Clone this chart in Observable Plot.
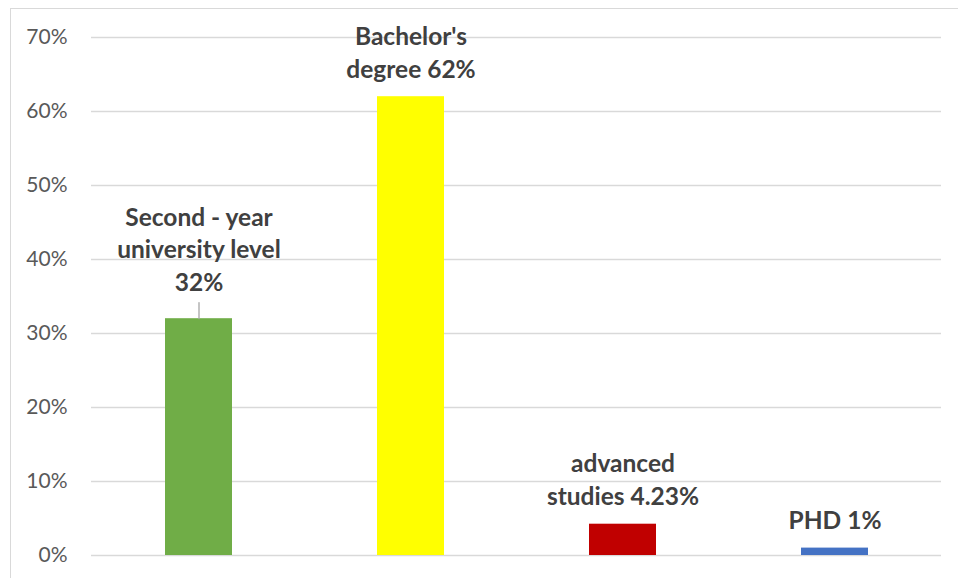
<!DOCTYPE html>
<html>
<head>
<meta charset="utf-8">
<script src="https://cdn.jsdelivr.net/npm/d3@7"></script>
<script src="https://cdn.jsdelivr.net/npm/@observablehq/plot@0.6"></script>
<style>
  html, body { margin: 0; padding: 0; background: #fff; }
  #wrap { position: relative; width: 958px; height: 578px; overflow: hidden; }
  #border { position: absolute; left: 10px; top: 8px; width: 1000px; height: 1000px; border: 1px solid #d9d9d9; box-sizing: border-box; pointer-events: none; }
</style>
</head>
<body>
<div id="wrap"><div id="border"></div></div>
<script>
const categories = ["Second - year university level", "Bachelor's degree", "advanced studies", "PHD"];
const values = [0.32, 0.62, 0.0423, 0.01];
const labels = ["Second - year\nuniversity level\n32%", "Bachelor's\ndegree 62%", "advanced\nstudies 4.23%", "PHD 1%"];
const colors = ["#70AD47", "#FFFF00", "#C00000", "#4472C4"];
const yTicks = [0, 0.1, 0.2, 0.3, 0.4, 0.5, 0.6, 0.7];

const data = categories.map((c, i) => ({cat: c, value: values[i], label: labels[i], color: colors[i]}));
const lifted = data.filter((d, i) => i === 0);
const normal = data.filter((d, i) => i !== 0);

const leader = {
  draw(context, l) { context.moveTo(0, 0); context.lineTo(0, -l); }
};

const chart = Plot.plot({
  width: 958,
  height: 578,
  marginLeft: 91,
  marginRight: 17,
  marginTop: 37,
  marginBottom: 23,
  style: {fontFamily: "Lato, 'Open Sans', sans-serif", background: "transparent", overflow: "visible"},
  x: {domain: categories, paddingInner: 0.685, paddingOuter: 0.3425, axis: null},
  y: {domain: [0, 0.7], label: null},
  marks: [
    Plot.gridY(yTicks, {stroke: "#d9d9d9", strokeWidth: 1.5, strokeOpacity: 1}),
    Plot.axisY(yTicks, {tickFormat: d => Math.round(d * 100) + "%", tickSize: 0, tickPadding: 24, fontSize: 21, fill: "#595959", label: null}),
    Plot.barY(data, {x: "cat", y: "value", fill: "color"}),
    Plot.vector(lifted, {x: "cat", y: "value", length: 16, rotate: 0, anchor: "start", shape: leader, stroke: "#a6a6a6", strokeWidth: 1.3}),
    Plot.text(lifted, {x: "cat", y: "value", text: "label", dy: -28, lineAnchor: "bottom", lineHeight: 1.33, fontSize: 24.5, fontWeight: "bold", fill: "#404040"}),
    Plot.text(normal, {x: "cat", y: "value", text: "label", dy: -19, lineAnchor: "bottom", lineHeight: 1.35, fontSize: 24.5, fontWeight: "bold", fill: "#404040"})
  ]
});
document.getElementById("wrap").appendChild(chart);
chart.style.position = "absolute";
chart.style.left = "0px";
chart.style.top = "0px";
</script>
</body>
</html>
